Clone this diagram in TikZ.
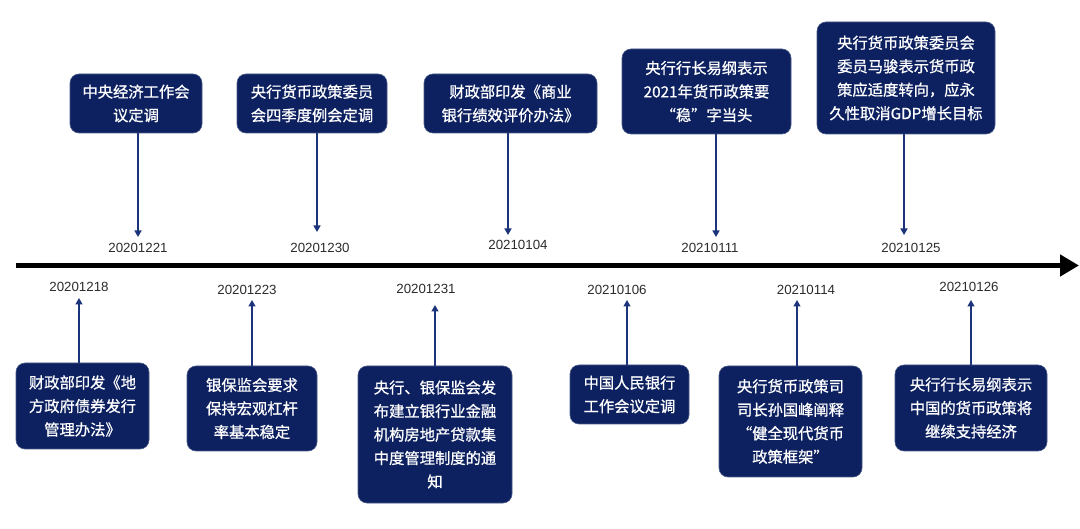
\documentclass[tikz,border=0pt]{standalone}
\usepackage{fontspec}
\setmainfont{Liberation Sans}
\newfontfamily\cjk{Noto Sans CJK SC}[FakeBold=0.8]
\usetikzlibrary{arrows.meta}
\definecolor{navy}{HTML}{0D2161}
\definecolor{lnavy}{HTML}{1C347A}
\definecolor{dgray}{HTML}{2B2B2B}
\begin{document}
\begin{tikzpicture}[x=1pt,y=-1pt,
  evbox/.style={fill=navy, draw=navy!75!white, line width=0.6pt, rounded corners=9pt,
    text=white, font=\cjk\fontsize{15.3}{23.5}\selectfont, align=center, inner sep=0pt},
  datelbl/.style={font=\fontsize{13.3}{15}\selectfont, text=dgray, inner sep=1pt},
  conn/.style={draw=lnavy, line width=1.4pt, -{Triangle[length=6.5pt,width=7pt]}},
  axisline/.style={line width=5.5pt, -{Triangle[length=19pt,width=21pt]}}]
\useasboundingbox (0,0) rectangle (1080,529);

% timeline
\coordinate (ax0) at (16,265.5);
\coordinate (ax1) at (1079,265.5);
\draw[axisline] (ax0) -- (ax1);

% top boxes
\node[evbox, minimum width=132pt, minimum height=59pt] (b1) at (136,103.5) {中央经济工作会\\议定调};
\node[evbox, minimum width=150pt, minimum height=59pt] (b2) at (312,103.5) {央行货币政策委员\\会四季度例会定调};
\node[evbox, minimum width=173pt, minimum height=59pt] (b3) at (510.5,103.5) {财政部印发《商业\\银行绩效评价办法》};
\node[evbox, minimum width=169pt, minimum height=85pt] (b4) at (706.5,91.5) {央行行长易纲表示\\2021年货币政策要\\“稳”字当头};
\node[evbox, minimum width=178pt, minimum height=112pt] (b5) at (906,78) {央行货币政策委员会\\委员马骏表示货币政\\策应适度转向，应永\\久性取消GDP增长目标};

% bottom boxes
\node[evbox, minimum width=133pt, minimum height=86pt] (b6) at (82.5,406) {财政部印发《地\\方政府债券发行\\管理办法》};
\node[evbox, minimum width=130pt, minimum height=85pt] (b7) at (252,408.5) {银保监会要求\\保持宏观杠杆\\率基本稳定};
\node[evbox, minimum width=154pt, minimum height=137pt] (b8) at (435,434.5) {央行、银保监会发\\布建立银行业金融\\机构房地产贷款集\\中度管理制度的通\\知};
\node[evbox, minimum width=119pt, minimum height=59pt] (b9) at (629.5,394.5) {中国人民银行\\工作会议定调};
\node[evbox, minimum width=143pt, minimum height=111pt] (b10) at (790.5,421.5) {央行货币政策司\\司长孙国峰阐释\\“健全现代货币\\政策框架”};
\node[evbox, minimum width=152pt, minimum height=86pt] (b11) at (971,408) {央行行长易纲表示\\中国的货币政策将\\继续支持经济};

% date labels
\node[datelbl] (d1) at (138,248) {20201221};
\node[datelbl] (d2) at (320,248) {20201230};
\node[datelbl] (d3) at (518,245) {20210104};
\node[datelbl] (d4) at (710,248) {20210111};
\node[datelbl] (d5) at (911,248) {20210125};
\node[datelbl] (d6) at (79,287) {20201218};
\node[datelbl] (d7) at (247,290) {20201223};
\node[datelbl] (d8) at (426,289) {20201231};
\node[datelbl] (d9) at (617,290) {20210106};
\node[datelbl] (d10) at (806,290) {20210114};
\node[datelbl] (d11) at (969,287) {20210126};

% connector end points
\coordinate (t1) at (138,237);
\coordinate (t2) at (317,232);
\coordinate (t3) at (508,235);
\coordinate (t4) at (716,237);
\coordinate (t5) at (904,235);
\coordinate (u6) at (79,298);
\coordinate (u7) at (252,300);
\coordinate (u8) at (435,305);
\coordinate (u9) at (627,300);
\coordinate (u10) at (797,300);
\coordinate (u11) at (971,300);

% connectors
\draw[conn] (b1.south -| t1) -- (t1);
\draw[conn] (b2.south -| t2) -- (t2);
\draw[conn] (b3.south -| t3) -- (t3);
\draw[conn] (b4.south -| t4) -- (t4);
\draw[conn] (b5.south -| t5) -- (t5);
\draw[conn] (b6.north -| u6) -- (u6);
\draw[conn] (b7.north -| u7) -- (u7);
\draw[conn] (b8.north -| u8) -- (u8);
\draw[conn] (b9.north -| u9) -- (u9);
\draw[conn] (b10.north -| u10) -- (u10);
\draw[conn] (b11.north -| u11) -- (u11);
\end{tikzpicture}
\end{document}
